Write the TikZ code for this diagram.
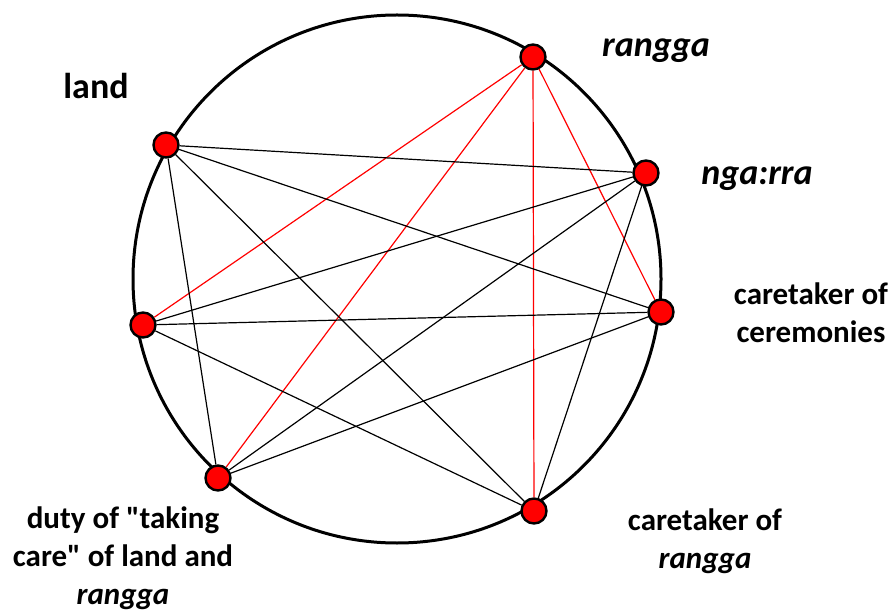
\documentclass[tikz,border=0pt]{standalone}
\usepackage{fontspec}
\setmainfont{Carlito}

\begin{document}
\begin{tikzpicture}[x=1pt, y=-1pt,
	every node/.style={font=\bfseries\fontsize{31}{38}\selectfont},
	big/.style={font=\bfseries\fontsize{36}{43}\selectfont},
	member/.style={circle, draw=black, line width=2.4pt, fill=red, minimum size=25pt, inner sep=0pt},
	tie/.style={line width=1.2pt},
	redtie/.style={line width=1.2pt, red}]
	\useasboundingbox (0,0) rectangle (894,612);
	\draw[line width=3pt] (397,279) circle [radius=264pt];
	% the seven members on the ring
	\node[member] (rangga) at (533,57) {};
	\node[member] (ngarra) at (646,173) {};
	\node[member] (ceremony) at (661,312) {};
	\node[member] (keeper) at (534,511) {};
	\node[member] (duty) at (218,478) {};
	\node[member] (west) at (143,325) {};
	\node[member] (land) at (166,145) {};
	% labels
	\node[big, anchor=base] (landlbl) at (96,99) {land};
	\node[big, anchor=base] (ranggalbl) at (656,57) {\textit{rangga}};
	\node[big, anchor=base] (ngarralbl) at (757,185) {\textit{nga:rra}};
	\node[align=center] (ceremonylbl) at (811,313) {caretaker of\\ceremonies};
	\node[align=center] (keeperlbl) at (705,541) {caretaker of\\\textit{rangga}};
	\node[align=center] (dutylbl) at (123,558) {duty of \textquotedbl taking\\care\textquotedbl{} of land and\\\textit{rangga}};
	% links
	\draw[redtie] (rangga) -- (west);
	\draw[redtie] (rangga) -- (duty);
	\draw[redtie] (rangga) -- (keeper);
	\draw[redtie] (rangga) -- (ceremony);
	\draw[tie] (land) -- (ngarra);
	\draw[tie] (land) -- (ceremony);
	\draw[tie] (land) -- (keeper);
	\draw[tie] (land) -- (duty);
	\draw[tie] (west) -- (ngarra);
	\draw[tie] (west) -- (ceremony);
	\draw[tie] (west) -- (keeper);
	\draw[tie] (duty) -- (ngarra);
	\draw[tie] (duty) -- (ceremony);
	\draw[tie] (ngarra) -- (keeper);
\end{tikzpicture}
\end{document}
